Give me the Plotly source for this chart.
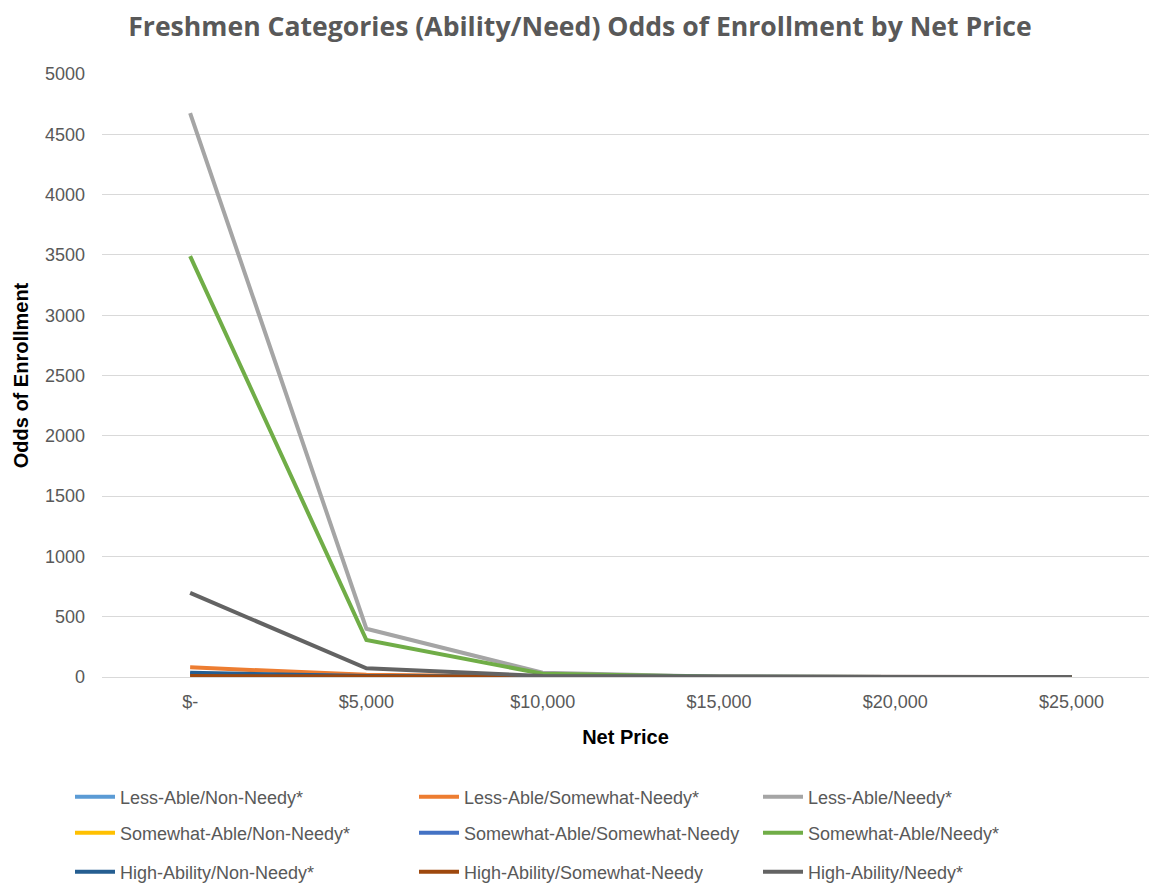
import plotly.graph_objects as go

categories = ["$-", "$5,000", "$10,000", "$15,000", "$20,000", "$25,000"]

series_names = [
    "Less-Able/Non-Needy*", "Less-Able/Somewhat-Needy*", "Less-Able/Needy*",
    "Somewhat-Able/Non-Needy*", "Somewhat-Able/Somewhat-Needy", "Somewhat-Able/Needy*",
    "High-Ability/Non-Needy*", "High-Ability/Somewhat-Needy", "High-Ability/Needy*",
]
less_able_non_needy = [20, 4, 1, 0.2, 0.05, 0.01]
less_able_somewhat_needy = [80, 18, 4, 1, 0.2, 0.05]
less_able_needy = [4675, 400, 35, 3, 0.3, 0.03]
somewhat_able_non_needy = [10, 2, 0.5, 0.1, 0.02, 0.01]
somewhat_able_somewhat_needy = [25, 5, 1, 0.2, 0.05, 0.01]
somewhat_able_needy = [3490, 307, 27, 2.4, 0.2, 0.02]
high_ability_non_needy = [35, 8, 2, 0.4, 0.1, 0.02]
high_ability_somewhat_needy = [8, 2, 0.5, 0.1, 0.03, 0.01]
high_ability_needy = [697, 72, 8, 1, 0.1, 0.01]

series_values = [
    less_able_non_needy, less_able_somewhat_needy, less_able_needy,
    somewhat_able_non_needy, somewhat_able_somewhat_needy, somewhat_able_needy,
    high_ability_non_needy, high_ability_somewhat_needy, high_ability_needy,
]
colors = ["#5B9BD5", "#ED7D31", "#A5A5A5", "#FFC000", "#4472C4", "#70AD47",
          "#255E91", "#9E480E", "#636363"]
legends = ["legend", "legend", "legend", "legend2", "legend2", "legend2",
           "legend3", "legend3", "legend3"]

FONT = "Liberation Sans"
fig = go.Figure()
for name, vals, col, lg in zip(series_names, series_values, colors, legends):
    fig.add_trace(go.Scatter(x=categories, y=vals, name=name, mode="lines",
                             line=dict(color=col, width=4), legend=lg))

W, H = 1149, 884
L, T, B = 102, 74, 207

def cy(py):
    return 1 - py / H

legend_common = dict(orientation="h", entrywidth=289, entrywidthmode="pixels",
                     font=dict(family=FONT, size=18, color="#595959"),
                     xref="container", yref="container",
                     xanchor="left", yanchor="middle", bgcolor="rgba(0,0,0,0)",
                     itemwidth=40, traceorder="normal")
lx = 70 / W

fig.update_layout(
    width=W, height=H,
    margin=dict(l=L, r=0, t=T, b=B, autoexpand=False),
    paper_bgcolor="white", plot_bgcolor="white",
    title=dict(text="<b>Freshmen Categories (Ability/Need) Odds of Enrollment by Net Price</b>",
               font=dict(family="Open Sans", size=26.6, color="#595959"),
               xref="container", yref="container",
               x=(580 / W), xanchor="center", y=cy(27), yanchor="middle"),
    legend=dict(**legend_common, x=lx, y=cy(797)),
    legend2=dict(**legend_common, x=lx, y=cy(833)),
    legend3=dict(**legend_common, x=lx, y=cy(872)),
    xaxis=dict(type="category", range=[-0.5, 5.44], showgrid=False, zeroline=False,
               showline=False, ticks="", automargin=False, ticklabelstandoff=12,
               tickfont=dict(family=FONT, size=18, color="#595959"),
               title=dict(text="<b>Net Price</b>", font=dict(family=FONT, size=20, color="black"),
                          standoff=18)),
    yaxis=dict(range=[0, 5000], dtick=500, showgrid=True, gridcolor="#D9D9D9", gridwidth=1,
               zeroline=True, zerolinecolor="#D9D9D9", zerolinewidth=1, showline=False,
               ticks="", ticklabelstandoff=16, automargin=False,
               tickfont=dict(family=FONT, size=18, color="#595959"),
               title=dict(text="<b>Odds of Enrollment</b>", font=dict(family=FONT, size=20, color="black"),
                          standoff=10)),
)
fig.write_html("out.html")
